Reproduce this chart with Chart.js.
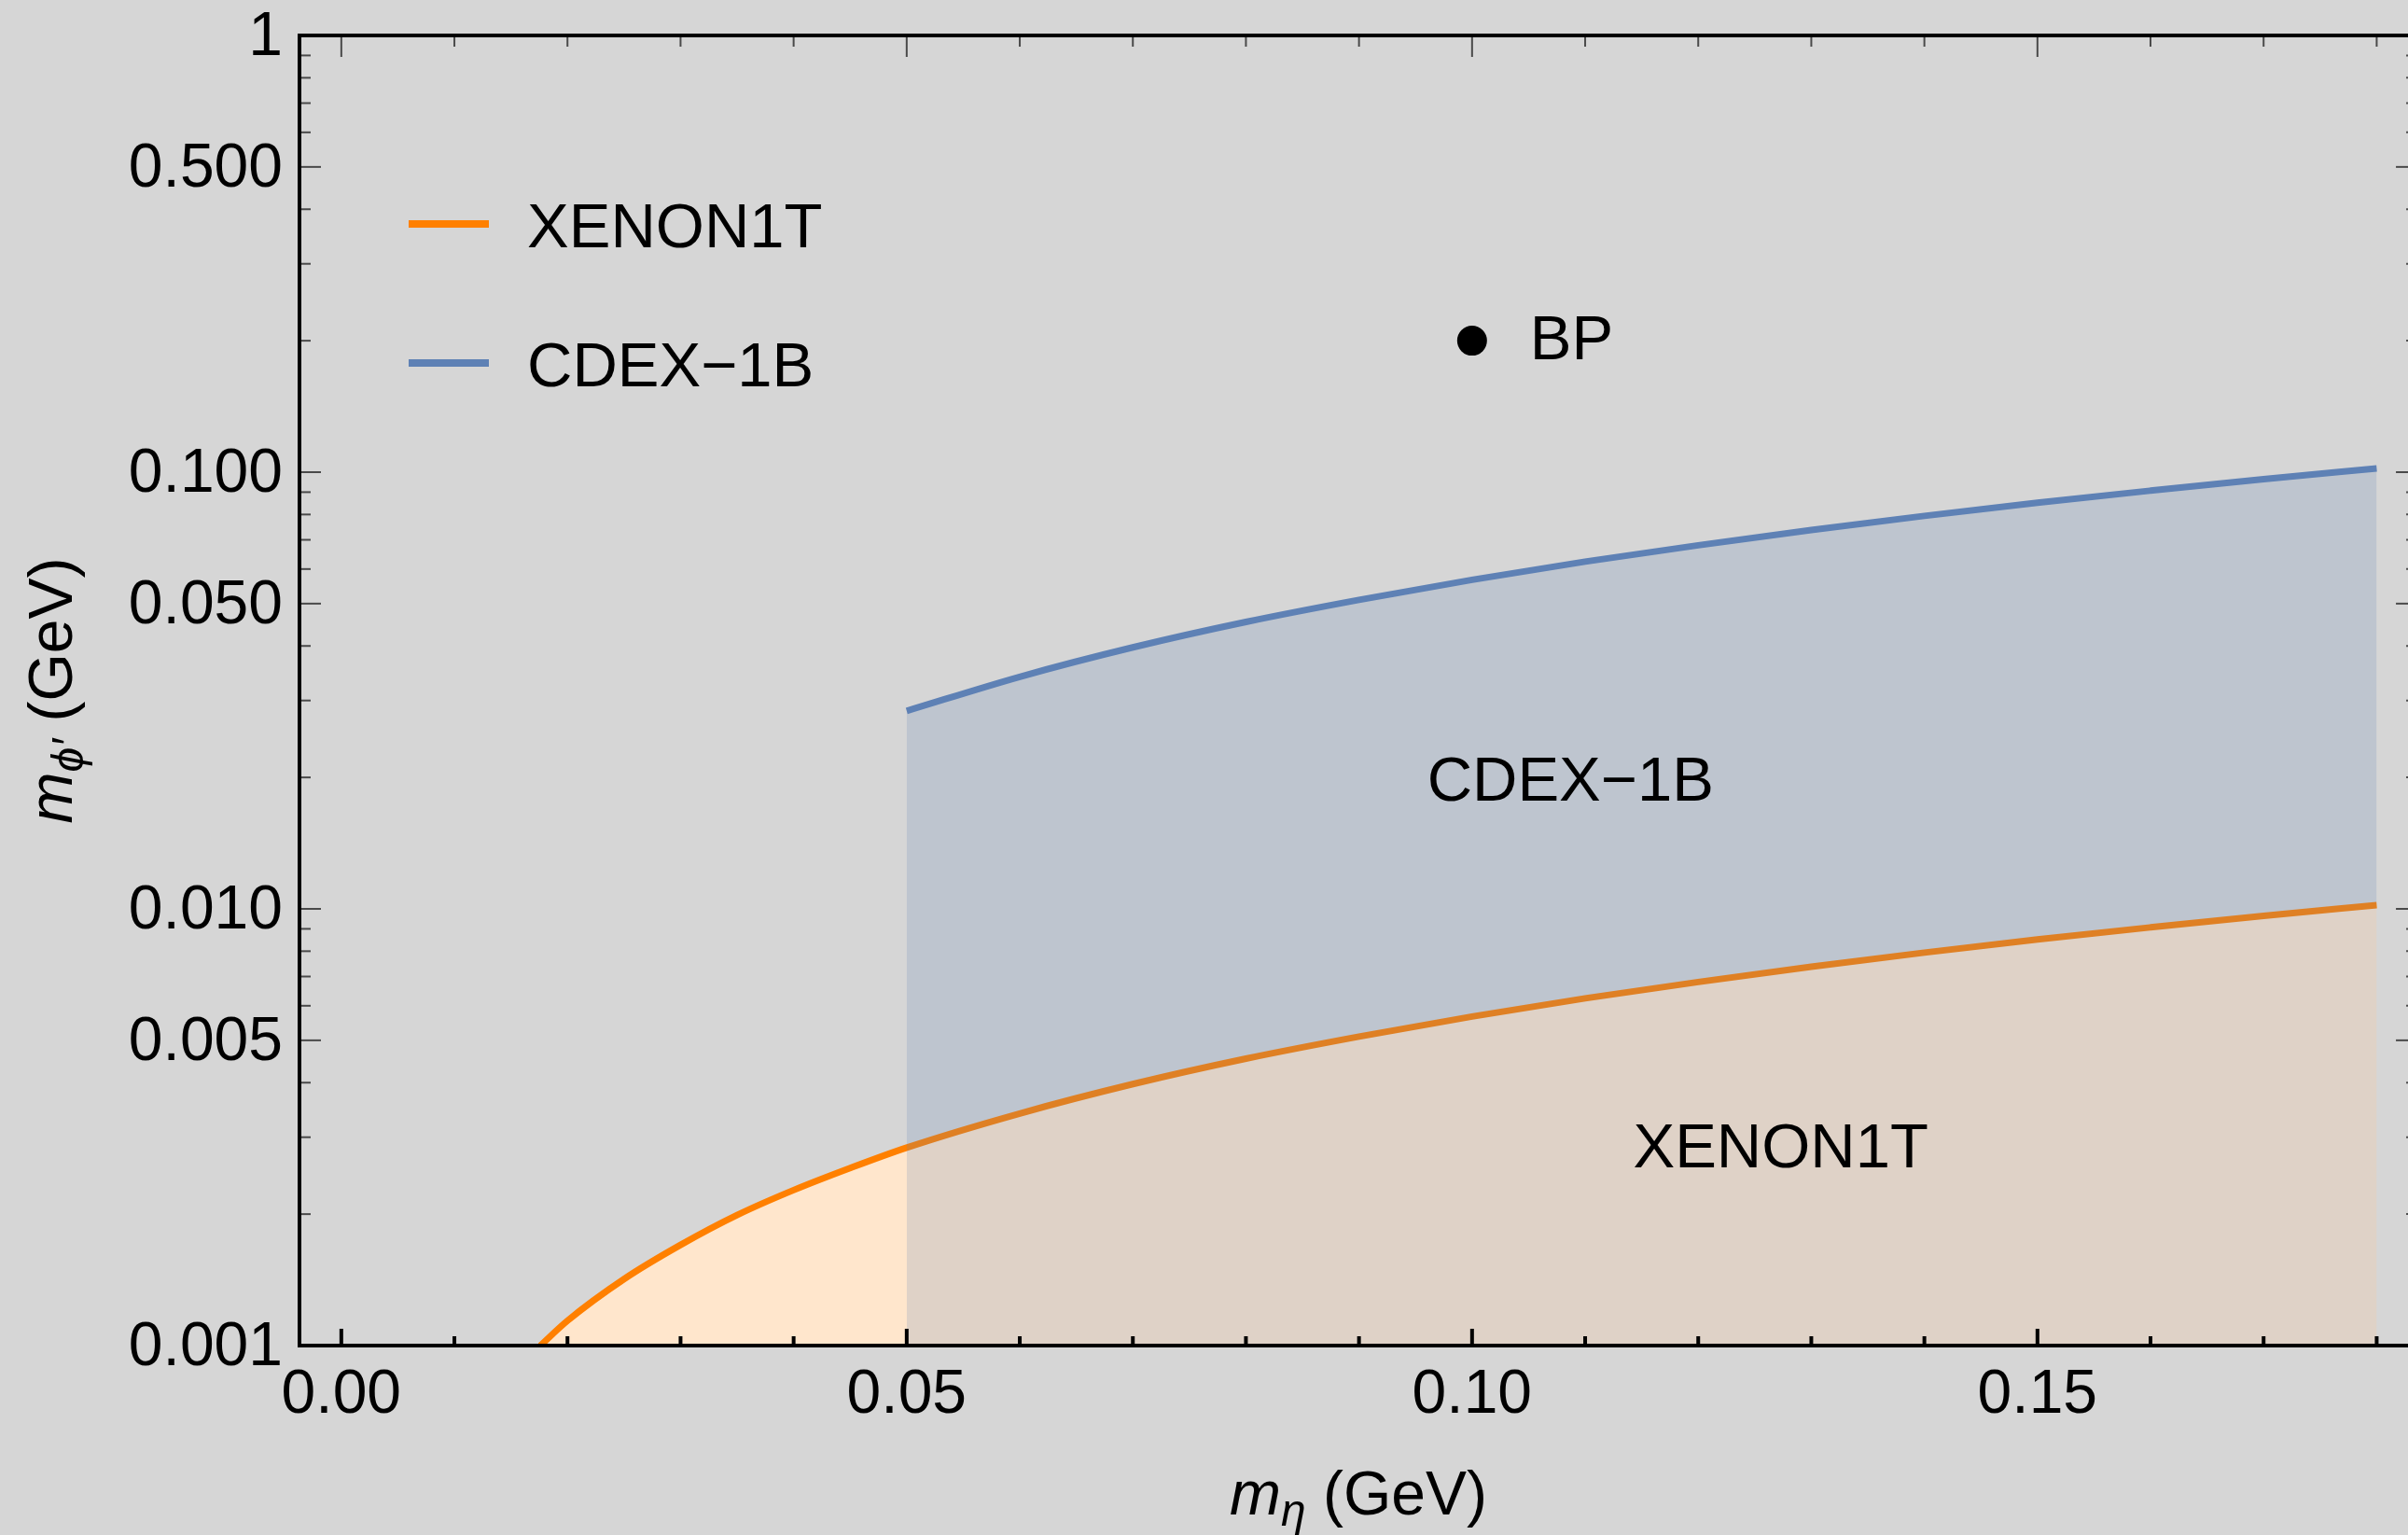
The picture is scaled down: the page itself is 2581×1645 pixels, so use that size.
<!DOCTYPE html>
<html>
<head>
<meta charset="utf-8">
<script src="https://cdn.jsdelivr.net/npm/chart.js@4.4.1/dist/chart.umd.min.js"></script>
<style>
  html, body { margin: 0; padding: 0; background: #d6d6d6; overflow: hidden; }
  canvas { display: block; }
</style>
</head>
<body>
<canvas id="limits" width="2581" height="1645"></canvas>
<script>
// XENON1T exclusion boundary: m_eta (GeV) and m_phi' (GeV)
const xenonMEta = [0.0176, 0.020, 0.025, 0.030, 0.035, 0.040, 0.045, 0.050, 0.060, 0.070, 0.080,
                   0.090, 0.100, 0.110, 0.120, 0.130, 0.140, 0.150, 0.160, 0.170, 0.180];
const xenonMPhi = [0.00100, 0.00114, 0.00142, 0.00170, 0.00199, 0.00227, 0.00255, 0.00284, 0.00340, 0.00397, 0.00454,
                   0.00510, 0.00567, 0.00624, 0.00680, 0.00737, 0.00794, 0.00851, 0.00907, 0.00964, 0.0102];

// CDEX-1B exclusion boundary
const cdexMEta = [0.050, 0.060, 0.070, 0.080, 0.090, 0.100, 0.110, 0.120, 0.130, 0.140, 0.150, 0.160, 0.170, 0.180];
const cdexMPhi = [0.0284, 0.0340, 0.0397, 0.0454, 0.0510, 0.0567, 0.0624, 0.0680, 0.0737, 0.0794, 0.0851, 0.0907, 0.0964, 0.102];

// benchmark point
const bpMEta = [0.10];
const bpMPhi = [0.20];

const seriesNames = ['XENON1T', 'CDEX\u22121B', 'BP'];

// axis ticks
const xTickValues = [0, 0.05, 0.10, 0.15];
const xTickLabels = ['0.00', '0.05', '0.10', '0.15'];
const xMinorTicks = [0.01, 0.02, 0.03, 0.04, 0.06, 0.07, 0.08, 0.09, 0.11, 0.12, 0.13, 0.14, 0.16, 0.17, 0.18];
const yTickValues = [0.001, 0.005, 0.01, 0.05, 0.1, 0.5, 1];
const yTickLabels = ['0.001', '0.005', '0.010', '0.050', '0.100', '0.500', '1'];
const yMinorTicks = [0.002, 0.003, 0.004, 0.006, 0.007, 0.008, 0.009,
                     0.02, 0.03, 0.04, 0.06, 0.07, 0.08, 0.09,
                     0.2, 0.3, 0.4, 0.6, 0.7, 0.8, 0.9];

// in-plot region names, placed at (m_eta, m_phi')
const regionNames = ['CDEX\u22121B', 'XENON1T'];
const regionMEta = [0.1087, 0.1273];
const regionMPhi = [0.0194, 0.0028];

const X_MIN = -0.0037, X_MAX = 0.18277, X_FRAME_RIGHT = 0.1836;
const FONT = '"Liberation Sans", Arial, Helvetica, "DejaVu Sans", sans-serif';
const ORANGE = 'rgb(255,128,0)';
const BLUE = 'rgb(94,129,181)';

function drawRun(ctx, parts, cx, baseY) {
  let total = 0;
  parts.forEach(p => { ctx.font = p.font; p.w = ctx.measureText(p.text).width; total += p.w; });
  let x = cx - total / 2;
  ctx.textAlign = 'left';
  ctx.textBaseline = 'alphabetic';
  parts.forEach(p => { ctx.font = p.font; ctx.fillText(p.text, x, baseY + (p.dy || 0)); x += p.w; });
}

const framePlugin = {
  id: 'frame',
  afterDraw(chart) {
    const { ctx, chartArea: a, scales: { x, y } } = chart;
    const xr = x.getPixelForValue(X_FRAME_RIGHT);
    ctx.save();
    ctx.lineCap = 'butt';

    // bottom ticks, pointing inward
    ctx.strokeStyle = '#000';
    ctx.lineWidth = 4;
    xTickValues.forEach(v => { const p = x.getPixelForValue(v); ctx.beginPath(); ctx.moveTo(p, a.bottom); ctx.lineTo(p, a.bottom - 18); ctx.stroke(); });
    xMinorTicks.forEach(v => { const p = x.getPixelForValue(v); ctx.beginPath(); ctx.moveTo(p, a.bottom); ctx.lineTo(p, a.bottom - 10); ctx.stroke(); });

    // top, left and right ticks
    ctx.strokeStyle = '#4a4a4a';
    ctx.lineWidth = 2;
    xTickValues.forEach(v => { const p = x.getPixelForValue(v); ctx.beginPath(); ctx.moveTo(p, a.top); ctx.lineTo(p, a.top + 23); ctx.stroke(); });
    xMinorTicks.forEach(v => { const p = x.getPixelForValue(v); ctx.beginPath(); ctx.moveTo(p, a.top); ctx.lineTo(p, a.top + 12); ctx.stroke(); });
    yTickValues.forEach(v => {
      const p = y.getPixelForValue(v);
      ctx.beginPath(); ctx.moveTo(a.left, p); ctx.lineTo(a.left + 23, p); ctx.stroke();
      ctx.beginPath(); ctx.moveTo(xr, p); ctx.lineTo(xr - 23, p); ctx.stroke();
    });
    yMinorTicks.forEach(v => {
      const p = y.getPixelForValue(v);
      ctx.beginPath(); ctx.moveTo(a.left, p); ctx.lineTo(a.left + 12, p); ctx.stroke();
      ctx.beginPath(); ctx.moveTo(xr, p); ctx.lineTo(xr - 12, p); ctx.stroke();
    });

    // frame lines
    ctx.strokeStyle = '#000';
    ctx.lineWidth = 4;
    ctx.beginPath();
    ctx.moveTo(xr, a.top); ctx.lineTo(a.left, a.top);
    ctx.lineTo(a.left, a.bottom); ctx.lineTo(xr, a.bottom);
    ctx.stroke();
    ctx.restore();
  }
};

const textPlugin = {
  id: 'texts',
  afterDraw(chart) {
    const { ctx, chartArea: a, scales: { x, y } } = chart;
    ctx.save();
    ctx.fillStyle = '#000';

    // legend
    const legendColors = [ORANGE, BLUE];
    [0, 1].forEach(i => {
      const rowY = a.top + 202 + i * 149;
      ctx.strokeStyle = legendColors[i];
      ctx.lineWidth = 8;
      ctx.beginPath(); ctx.moveTo(a.left + 117, rowY); ctx.lineTo(a.left + 203, rowY); ctx.stroke();
      ctx.font = '67px ' + FONT;
      ctx.textAlign = 'left';
      ctx.textBaseline = 'alphabetic';
      ctx.fillText(seriesNames[i], a.left + 244, rowY + 25);
    });

    // benchmark label
    ctx.font = '67px ' + FONT;
    ctx.textAlign = 'left';
    ctx.textBaseline = 'alphabetic';
    ctx.fillText(seriesNames[2], x.getPixelForValue(bpMEta[0]) + 62, y.getPixelForValue(bpMPhi[0]) + 20);

    // region names
    ctx.textAlign = 'center';
    ctx.textBaseline = 'middle';
    regionNames.forEach((t, i) => {
      ctx.fillText(t, x.getPixelForValue(regionMEta[i]), y.getPixelForValue(regionMPhi[i]));
    });

    // axis titles
    const cx = (a.left + x.getPixelForValue(X_FRAME_RIGHT)) / 2;
    drawRun(ctx, [
      { text: 'm', font: 'italic 66px ' + FONT },
      { text: '\u03B7', font: 'italic 48px ' + FONT, dy: 12 },
      { text: ' (GeV)', font: '66px ' + FONT }
    ], cx, 1623);

    ctx.translate(77, (a.top + a.bottom) / 2);
    ctx.rotate(-Math.PI / 2);
    drawRun(ctx, [
      { text: 'm', font: 'italic 66px ' + FONT },
      { text: '\u03D5\u2032', font: 'italic 48px ' + FONT, dy: 12 },
      { text: ' (GeV)', font: '66px ' + FONT }
    ], 0, 0);
    ctx.restore();
  }
};

const toPoints = (xs, ys) => xs.map((v, i) => ({ x: v, y: ys[i] }));

new Chart(document.getElementById('limits').getContext('2d'), {
  type: 'line',
  data: {
    datasets: [
      {
        label: seriesNames[0],
        data: toPoints(xenonMEta, xenonMPhi),
        borderColor: ORANGE,
        backgroundColor: 'rgb(255,230,204)',
        borderWidth: 7,
        fill: 'start',
        pointRadius: 0,
        cubicInterpolationMode: 'monotone',
        order: 2
      },
      {
        label: seriesNames[1],
        data: toPoints(cdexMEta, cdexMPhi),
        borderColor: BLUE,
        backgroundColor: 'rgba(94,129,181,0.2)',
        borderWidth: 7,
        fill: 'start',
        pointRadius: 0,
        cubicInterpolationMode: 'monotone',
        order: 1
      },
      {
        label: seriesNames[2],
        type: 'scatter',
        data: toPoints(bpMEta, bpMPhi),
        pointRadius: 16,
        pointBackgroundColor: '#000',
        pointBorderWidth: 0,
        showLine: false,
        order: 0
      }
    ]
  },
  options: {
    responsive: false,
    devicePixelRatio: 1,
    animation: false,
    events: [],
    layout: { autoPadding: false, padding: { top: 38, left: 0, right: 0, bottom: 0 } },
    plugins: { legend: { display: false }, tooltip: { enabled: false }, title: { display: false } },
    scales: {
      x: {
        type: 'linear',
        min: X_MIN,
        max: X_MAX,
        grid: { display: false, drawTicks: false },
        border: { display: false },
        ticks: {
          font: { family: FONT, size: 66 },
          color: '#000',
          padding: 14,
          autoSkip: false,
          maxRotation: 0,
          callback: (v, i) => xTickLabels[i]
        },
        afterBuildTicks: s => { s.ticks = xTickValues.map(v => ({ value: v })); },
        afterFit: s => { s.height = 203; s.paddingLeft = 0; s.paddingRight = 0; }
      },
      y: {
        type: 'logarithmic',
        min: 0.001,
        max: 1,
        grid: { display: false, drawTicks: false },
        border: { display: false },
        ticks: {
          font: { family: FONT, size: 66 },
          color: '#000',
          padding: 18,
          labelOffset: 3,
          autoSkip: false,
          callback: (v, i) => yTickLabels[i]
        },
        afterBuildTicks: s => { s.ticks = yTickValues.map(v => ({ value: v })); },
        afterFit: s => { s.width = 321; s.paddingTop = 0; s.paddingBottom = 0; }
      }
    }
  },
  plugins: [framePlugin, textPlugin]
});
</script>
</body>
</html>
